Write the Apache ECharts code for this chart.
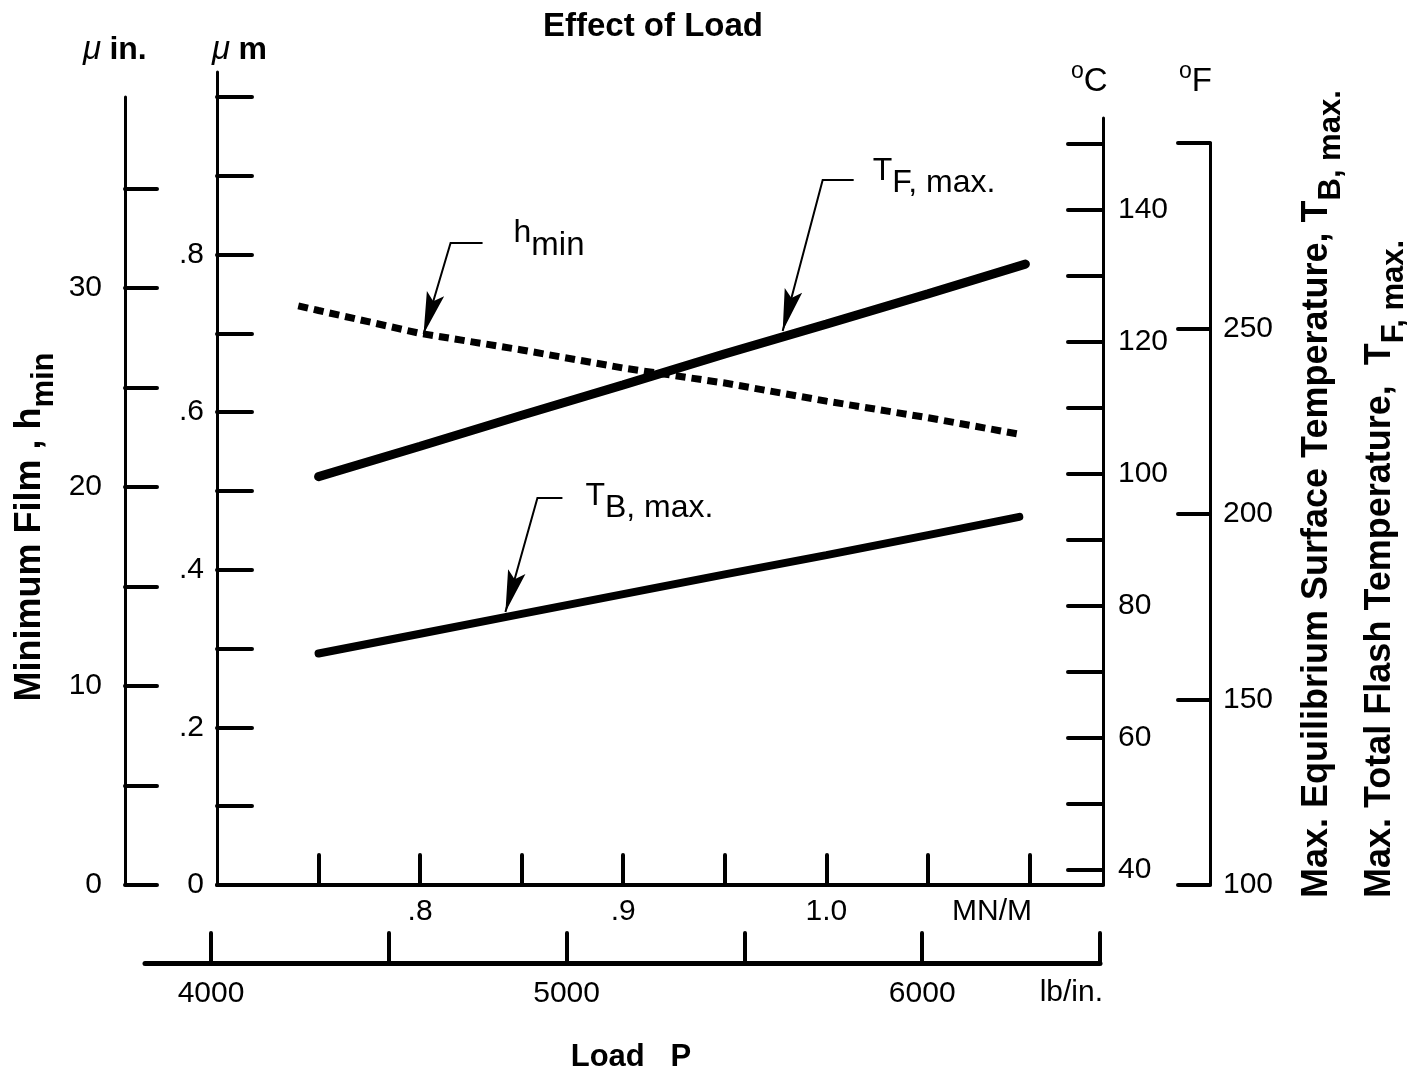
<!DOCTYPE html>
<html><head><meta charset="utf-8">
<script src="https://cdn.jsdelivr.net/npm/echarts@6/dist/echarts.min.js"></script>
<style>html,body{margin:0;padding:0;background:#fff}#c{width:1407px;height:1075px}</style>
</head><body><div id="c"></div>
<script>
// ---------------- data ----------------
// Load in MN/m
const tfLoad = [0.75, 0.80, 0.85, 0.90, 0.95, 1.00, 1.05, 1.098];
const tfTemp = [99.6, 104.2, 108.9, 113.5, 118.2, 122.7, 127.3, 131.8];   // T_F,max  (deg C)
const tbLoad = [0.75, 0.80, 0.85, 0.90, 0.95, 1.00, 1.05, 1.095];
const tbTemp = [72.8, 75.8, 78.8, 81.8, 84.8, 87.7, 90.75, 93.5];         // T_B,max  (deg C)
const hLoad  = [0.74, 0.75, 0.80, 0.85, 0.90, 0.95, 1.00, 1.05, 1.095];
const hFilm  = [0.735, 0.729, 0.700, 0.679, 0.656, 0.637, 0.614, 0.593, 0.572]; // h_min (micrometre)

// tick values / labels
const mnTicks  = [0.75, 0.80, 0.85, 0.90, 0.95, 1.00, 1.05, 1.10];
const mnLabels = [0.8, 0.9, 1.0];
const lbTicks  = [4000, 4500, 5000, 5500, 6000, 6500];
const lbLabels = [4000, 5000, 6000];
const umTicks  = [0, 0.1, 0.2, 0.3, 0.4, 0.5, 0.6, 0.7, 0.8, 0.9, 1.0];
const umLabels = [0, 0.2, 0.4, 0.6, 0.8];
const uinTicks = [0, 5, 10, 15, 20, 25, 30, 35];
const uinLabels= [0, 10, 20, 30];
const cTicks   = [40, 50, 60, 70, 80, 90, 100, 110, 120, 130, 140, 150];
const cLabels  = [40, 60, 80, 100, 120, 140];
const fTicks   = [100, 150, 200, 250, 300];
const fLabels  = [100, 150, 200, 250];

const FONT = '"Liberation Sans", Arial, sans-serif';
const K = '#000';

function zip(a, b) { return a.map((v, i) => [v, b[i]]); }
function lbl(extra) { return Object.assign({ color: K, fontFamily: FONT, fontSize: 30 }, extra); }
function tick(len, vals, w) { return { show: true, inside: true, length: len, customValues: vals, lineStyle: { color: K, width: w || 4, cap: 'round' } }; }
function line(w) { return { show: true, onZero: false, lineStyle: { color: K, width: w } }; }
const noSplit = { show: false };

const chart = echarts.init(document.getElementById('c'), null, { renderer: 'canvas' });

const option = {
  backgroundColor: '#fff',
  animation: false,
  grid: [
    { left: 217, right: 304, top: 72,  bottom: 190, outerBoundsMode: 'none' },  // main (um / MN/m)
    { left: 125, width: 20,  top: 97,  bottom: 190, outerBoundsMode: 'none' },  // micro-inch
    { left: 217, right: 304, top: 118, bottom: 190, outerBoundsMode: 'none' },  // deg C
    { left: 1150, right: 197, top: 143, bottom: 190, outerBoundsMode: 'none' }, // deg F
    { left: 145, right: 307, top: 950, bottom: 112, outerBoundsMode: 'none' }   // lb/in
  ],
  xAxis: [
    { gridIndex: 0, type: 'value', position: 'bottom', min: 0.7, max: 1.1362,
      axisLine: line(4), axisTick: tick(30, mnTicks), splitLine: noSplit,
      axisLabel: lbl({ customValues: mnLabels, margin: 12,
        formatter: v => (v === 1 ? '1.0' : String(v).replace(/^0/, '')) }) },
    { gridIndex: 1, type: 'value', show: false, min: 0, max: 1 },
    { gridIndex: 2, type: 'value', show: false, min: 0, max: 1 },
    { gridIndex: 3, type: 'value', show: false, min: 0, max: 1 },
    { gridIndex: 4, type: 'value', position: 'bottom', min: 3814.4, max: 6500,
      axisLine: line(5), axisTick: tick(30, lbTicks), splitLine: noSplit,
      axisLabel: lbl({ customValues: lbLabels, margin: 16, formatter: v => String(v) }) }
  ],
  yAxis: [
    { gridIndex: 0, type: 'value', position: 'left', min: 0, max: 1.0317,
      axisLine: line(3), axisTick: tick(35, umTicks), splitLine: noSplit,
      axisLabel: lbl({ customValues: umLabels, margin: 13,
        formatter: v => (v === 0 ? '0' : String(v).replace(/^0/, '')) }) },
    { gridIndex: 0, type: 'value', show: false, min: 37.727, max: 160.91, splitLine: noSplit },
    { gridIndex: 1, type: 'value', position: 'left', min: 0, max: 39.6,
      axisLine: line(3), axisTick: tick(32, uinTicks), splitLine: noSplit,
      axisLabel: lbl({ customValues: uinLabels, margin: 23 }) },
    { gridIndex: 2, type: 'value', position: 'right', min: 37.727, max: 153.94,
      axisLine: line(3), axisTick: tick(35, cTicks), splitLine: noSplit,
      axisLabel: lbl({ customValues: cLabels, margin: 15 }) },
    { gridIndex: 3, type: 'value', position: 'right', min: 100, max: 300,
      axisLine: line(3), axisTick: tick(32, fTicks), splitLine: noSplit,
      axisLabel: lbl({ customValues: fLabels, margin: 13 }) },
    { gridIndex: 4, type: 'value', show: false, min: 0, max: 1 }
  ],
  series: [
    { name: 'T_F,max', type: 'line', xAxisIndex: 0, yAxisIndex: 1, data: zip(tfLoad, tfTemp),
      showSymbol: false, silent: true, lineStyle: { color: K, width: 9, cap: 'round' } },
    { name: 'T_B,max', type: 'line', xAxisIndex: 0, yAxisIndex: 1, data: zip(tbLoad, tbTemp),
      showSymbol: false, silent: true, lineStyle: { color: K, width: 8, cap: 'round' } },
    { name: 'h_min', type: 'line', xAxisIndex: 0, yAxisIndex: 0, data: zip(hLoad, hFilm),
      showSymbol: false, silent: true, lineStyle: { color: K, width: 7, type: [10, 6], cap: 'butt' } }
  ]
};
chart.setOption(option);

// ---------------- text & annotation arrows ----------------
function interp(xs, ys, x) {
  for (let i = 0; i < xs.length - 1; i++) {
    if (x >= xs[i] && x <= xs[i + 1]) return ys[i] + (ys[i + 1] - ys[i]) * (x - xs[i]) / (xs[i + 1] - xs[i]);
  }
  return ys[ys.length - 1];
}
const notes = [
  { s: 2, xs: hLoad,  ys: hFilm,  at: 0.8017, lift: 0,  top: [27, -91],  hook: [59, -91],  lab: [90, -72],  m: 'h', sub: 'min',     ms: 32, ss: 33, pad: 13 },
  { s: 0, xs: tfLoad, ys: tfTemp, at: 0.9785, lift: -6, top: [40, -151], hook: [71, -151], lab: [90, -132], m: 'T', sub: 'F, max.', ms: 32, ss: 32, pad: 12 },
  { s: 1, xs: tbLoad, ys: tbTemp, at: 0.842,  lift: -5, top: [32, -114], hook: [57, -114], lab: [80, -88],  m: 'T', sub: 'B, max.', ms: 32, ss: 32, pad: 12 }
];
const g = [];
notes.forEach(n => {
  const p = chart.convertToPixel({ seriesIndex: n.s }, [n.at, interp(n.xs, n.ys, n.at)]);
  const tip = [p[0], p[1] + n.lift];
  const top = [tip[0] + n.top[0], tip[1] + n.top[1]];
  const hook = [tip[0] + n.hook[0], tip[1] + n.hook[1]];
  const dx = top[0] - tip[0], dy = top[1] - tip[1], L = Math.hypot(dx, dy);
  const ux = dx / L, uy = dy / L, px = -uy, py = ux;
  const bx = tip[0] + ux * 42, by = tip[1] + uy * 42, hw = 9;
  g.push({ type: 'polyline', shape: { points: [hook, top, tip] }, style: { stroke: K, lineWidth: 2, fill: null } });
  g.push({ type: 'polygon', shape: { points: [tip, [bx + px * hw, by + py * hw], [tip[0] + ux * 34, tip[1] + uy * 34], [bx - px * hw, by - py * hw]] }, style: { fill: K } });
  g.push({ type: 'text', x: tip[0] + n.lab[0], y: tip[1] + n.lab[1],
    style: { text: '{m|' + n.m + '}{s|' + n.sub + '}', align: 'left', verticalAlign: 'bottom',
      rich: { m: { fontSize: n.ms, fontFamily: FONT, fill: K, verticalAlign: 'bottom', padding: [0, 0, n.pad, 0] },
              s: { fontSize: n.ss, fontFamily: FONT, fill: K, verticalAlign: 'bottom' } } } });
});

function txt(x, y, text, o) {
  return { type: 'text', x: x, y: y,
    style: Object.assign({ text: text, fill: K, fontFamily: FONT, fontSize: 30 }, o || {}) };
}
// title
g.push(txt(653, 27, 'Effect of Load', { fontSize: 33, fontWeight: 'bold', align: 'center', verticalAlign: 'middle' }));
// bottom title
g.push(txt(631, 1057, 'Load   P', { fontSize: 31, fontWeight: 'bold', align: 'center', verticalAlign: 'middle' }));
// axis unit labels
g.push(txt(1032, 912, 'MN/M', { align: 'right', verticalAlign: 'middle' }));
g.push(txt(1103, 993, 'lb/in.', { align: 'right', verticalAlign: 'middle' }));
const muRich = { i: { fontSize: 33, fontStyle: 'italic', fontFamily: FONT, fill: K, verticalAlign: 'bottom' },
                 r: { fontSize: 32, fontWeight: 'bold', fontFamily: FONT, fill: K, verticalAlign: 'bottom' } };
g.push(txt(83, 66, '{i|\u03bc} {r|in.}', { align: 'left', verticalAlign: 'bottom', rich: muRich }));
g.push(txt(212, 66, '{i|\u03bc} {r|m}', { align: 'left', verticalAlign: 'bottom', rich: muRich }));
const degRich = { s: { fontSize: 23, fontFamily: FONT, fill: K, verticalAlign: 'bottom', padding: [0, 0, 15, 0] },
                  m: { fontSize: 33, fontFamily: FONT, fill: K, verticalAlign: 'bottom' } };
g.push(txt(1071, 98, '{s|o}{m|C}', { align: 'left', verticalAlign: 'bottom', rich: degRich }));
g.push(txt(1179, 98, '{s|o}{m|F}', { align: 'left', verticalAlign: 'bottom', rich: degRich }));
// rotated axis titles
function vtitle(x, y, main, sub, align) {
  return { type: 'text', x: x, y: y, rotation: Math.PI / 2,
    style: { text: '{m|' + main + '}{s|' + sub + '}', align: align, verticalAlign: 'middle',
      rich: { m: { fontSize: 36, fontWeight: 'bold', fontFamily: FONT, fill: K, verticalAlign: 'bottom', padding: [0, 0, 12, 0] },
              s: { fontSize: 31, fontWeight: 'bold', fontFamily: FONT, fill: K, verticalAlign: 'bottom' } } } };
}
g.push(vtitle(36, 527, 'Minimum Film , h', 'min', 'center'));
g.push(vtitle(1323, 898, 'Max. Equilibrium Surface Temperature, T', 'B, max.', 'left'));
g.push(vtitle(1386, 898, 'Max. Total Flash Temperature,  T', 'F, max.', 'left'));

chart.setOption({ graphic: g });
</script></body></html>
